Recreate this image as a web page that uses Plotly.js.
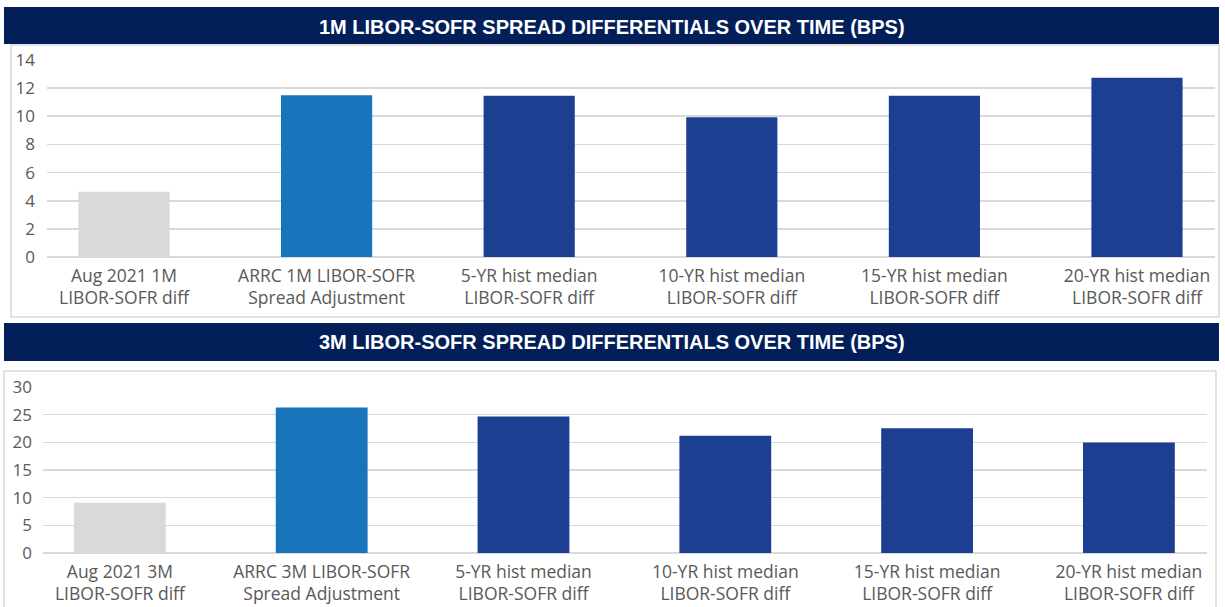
<!DOCTYPE html>
<html>
<head>
<meta charset="utf-8">
<script src="https://cdn.plot.ly/plotly-3.0.1.min.js"></script>
<style>
html,body{margin:0;padding:0;background:#ffffff;}
#chart{width:1225px;height:607px;}
</style>
</head>
<body>
<div id="chart"></div>
<script>
// ---- data ----
const title1 = "1M LIBOR-SOFR SPREAD DIFFERENTIALS OVER TIME (BPS)";
const title2 = "3M LIBOR-SOFR SPREAD DIFFERENTIALS OVER TIME (BPS)";
const categories1 = [
  "Aug 2021 1M<br>LIBOR-SOFR diff",
  "ARRC 1M LIBOR-SOFR<br>Spread Adjustment",
  "5-YR hist median<br>LIBOR-SOFR diff",
  "10-YR hist median<br>LIBOR-SOFR diff",
  "15-YR hist median<br>LIBOR-SOFR diff",
  "20-YR hist median<br>LIBOR-SOFR diff"
];
const categories2 = [
  "Aug 2021 3M<br>LIBOR-SOFR diff",
  "ARRC 3M LIBOR-SOFR<br>Spread Adjustment",
  "5-YR hist median<br>LIBOR-SOFR diff",
  "10-YR hist median<br>LIBOR-SOFR diff",
  "15-YR hist median<br>LIBOR-SOFR diff",
  "20-YR hist median<br>LIBOR-SOFR diff"
];
const values1 = [4.64, 11.5, 11.46, 9.93, 11.46, 12.74];
const values2 = [9.1, 26.3, 24.65, 21.2, 22.55, 19.95];
const yTicks1 = [0, 2, 4, 6, 8, 10, 12, 14];
const yTicks2 = [0, 5, 10, 15, 20, 25, 30];

// ---- styles ----
const W = 1225, H = 607;
const px = v => v / W;
const py = v => 1 - v / H;
const barColors = ["#d9d9d9", "#1874bb", "#1d3f91", "#1d3f91", "#1d3f91", "#1d3f91"];
const navy = "#021f5a";
const gridColor = "#d9d9d9";
const tickFont = {family: "Open Sans, sans-serif", size: 17, color: "#595959"};
const catFont = {family: "Open Sans, sans-serif", size: 17.5, color: "#595959"};
const headFont = {family: "Liberation Sans, Arial, sans-serif", size: 20, color: "#ffffff", weight: 700};

const traces = [
  {type: "bar", x: categories1, y: values1, xaxis: "x", yaxis: "y",
   marker: {color: barColors}, width: 0.45, hoverinfo: "skip"},
  {type: "bar", x: categories2, y: values2, xaxis: "x2", yaxis: "y2",
   marker: {color: barColors}, width: 0.455, hoverinfo: "skip"}
];

const layout = {
  width: W, height: H,
  margin: {l: 0, r: 0, t: 0, b: 0},
  paper_bgcolor: "#ffffff",
  plot_bgcolor: "rgba(0,0,0,0)",
  showlegend: false,
  xaxis: {
    domain: [px(47), px(1215)], anchor: "y",
    type: "category", range: [-0.38, 5.385],
    showgrid: false, zeroline: false, showline: false,
    ticks: "", tickfont: catFont, fixedrange: true, tickangle: 0,
    ticklabelstandoff: 6
  },
  yaxis: {
    domain: [py(257), py(60)], anchor: "x",
    range: [0, 14], tickvals: yTicks1,
    showgrid: true, gridcolor: gridColor, gridwidth: 1.6,
    zeroline: true, zerolinecolor: gridColor, zerolinewidth: 1.6,
    showline: false, ticks: "", ticklabelstandoff: 11,
    tickfont: tickFont, fixedrange: true
  },
  xaxis2: {
    domain: [px(43), px(1207)], anchor: "y2",
    type: "category", range: [-0.381, 5.387],
    showgrid: false, zeroline: false, showline: false,
    ticks: "", tickfont: catFont, fixedrange: true, tickangle: 0,
    ticklabelstandoff: 6
  },
  yaxis2: {
    domain: [py(553), py(387)], anchor: "x2",
    range: [0, 30], tickvals: yTicks2,
    showgrid: true, gridcolor: gridColor, gridwidth: 1.6,
    zeroline: true, zerolinecolor: gridColor, zerolinewidth: 1.6,
    showline: false, ticks: "", ticklabelstandoff: 10,
    tickfont: tickFont, fixedrange: true
  },
  shapes: [
    {type: "rect", xref: "paper", yref: "paper", x0: px(11), x1: px(1219), y0: py(317), y1: py(45),
     line: {color: "#d9d9d9", width: 1.5}, fillcolor: "rgba(0,0,0,0)", layer: "below"},
    {type: "rect", xref: "paper", yref: "paper", x0: px(4), x1: px(1216), y0: py(612), y1: py(371),
     line: {color: "#d9d9d9", width: 1.5}, fillcolor: "rgba(0,0,0,0)", layer: "below"},
    {type: "rect", xref: "paper", yref: "paper", x0: px(4), x1: px(1219), y0: py(44), y1: py(7),
     line: {width: 0}, fillcolor: navy, layer: "above"},
    {type: "rect", xref: "paper", yref: "paper", x0: px(4), x1: px(1219), y0: py(361), y1: py(323),
     line: {width: 0}, fillcolor: navy, layer: "above"}
  ],
  annotations: [
    {xref: "paper", yref: "paper", x: px(612), y: py(26.5), text: title1, showarrow: false,
     xanchor: "center", yanchor: "middle", font: headFont},
    {xref: "paper", yref: "paper", x: px(612), y: py(342), text: title2, showarrow: false,
     xanchor: "center", yanchor: "middle", font: headFont}
  ]
};

Plotly.newPlot("chart", traces, layout, {staticPlot: true, displayModeBar: false});
</script>
</body>
</html>
